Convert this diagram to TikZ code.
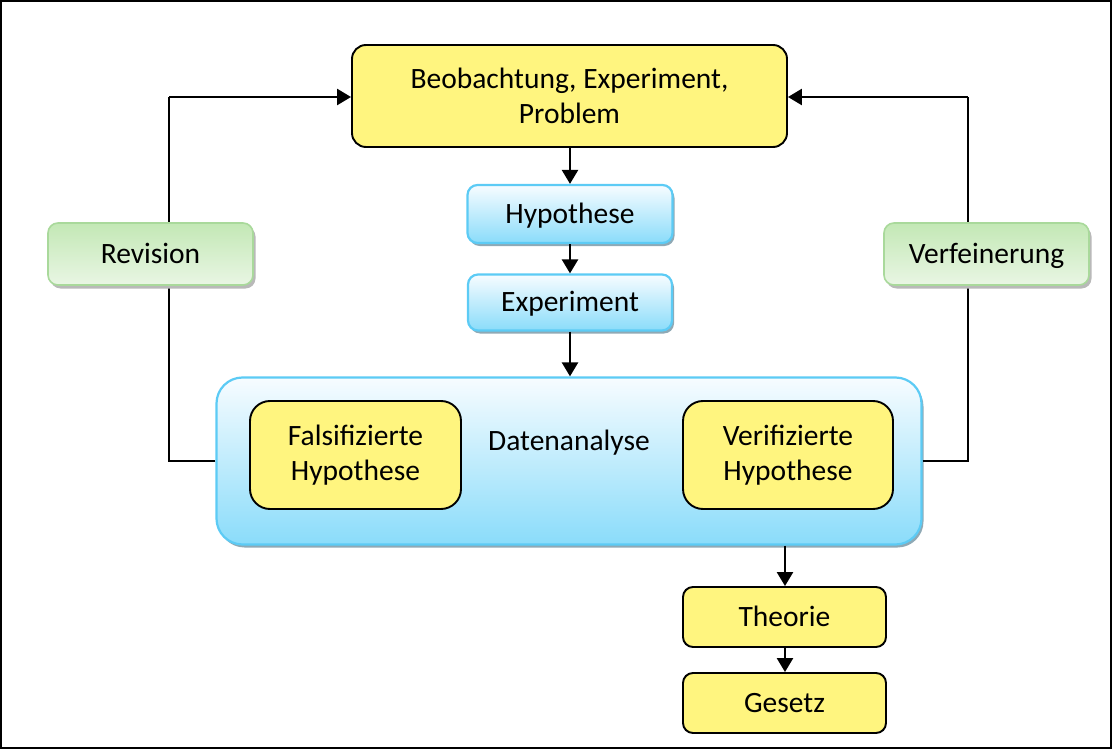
\documentclass[tikz,border=0pt]{standalone}
\usepackage{fontspec}
\setmainfont{Carlito}
\usetikzlibrary{arrows.meta,shadows}
\definecolor{ylw}{HTML}{FFF57F}
\definecolor{bluebd}{HTML}{5CCBF5}
\definecolor{bluebot}{HTML}{8ADCFA}
\definecolor{bluetop}{HTML}{F7FCFF}
\definecolor{grnbd}{HTML}{A9D99B}
\definecolor{grntop}{HTML}{C3E8B5}
\definecolor{grnbot}{HTML}{E9F6E4}
\definecolor{shd}{HTML}{8FA9B5}
\begin{document}
\begin{tikzpicture}[x=1pt,y=-1pt,
  every node/.style={font=\fontsize{29.5}{35}\selectfont, align=center, inner sep=0pt},
  one/.style={text height=22pt, text depth=3.2pt},
  ybox/.style={draw=black, line width=1.9pt, fill=ylw, rounded corners=14pt},
  bbox/.style={draw=bluebd, line width=2.2pt, top color=bluetop, bottom color=bluebot, rounded corners=10pt,
    drop shadow={shadow xshift=2pt, shadow yshift=-3pt, fill=shd, opacity=1}},
  gbox/.style={draw=grnbd, line width=1.6pt, top color=grntop, bottom color=grnbot, rounded corners=10pt,
    drop shadow={shadow xshift=2.5pt, shadow yshift=-3.5pt, fill=gray!55, opacity=1}},
  conn/.style={line width=2.5pt},
  arr/.style={line width=2.5pt, -{Triangle[length=14pt,width=16pt]}}]
\useasboundingbox (0,0) rectangle (1112,749);
\draw[line width=1.2pt] (1,1) rectangle (1111,748);

\coordinate (lc) at (169,461);
\coordinate (lt) at (169,97);
\coordinate (rc) at (968,461);
\coordinate (rt) at (968,97);

\node[ybox, minimum width=435pt, minimum height=102pt] (top) at (569.5,96) {Beobachtung, Experiment,\\Problem};

\node[bbox, minimum width=705pt, minimum height=167pt, rounded corners=26pt] (da) at (569,461) {};
\node[one] (dat) at (569,441) {Datenanalyse};

\draw[conn] (lc -| da.west) -- (lc) -- (lt);
\draw[arr] (lt) -- (lt -| top.west);
\draw[conn] (rc -| da.east) -- (rc) -- (rt);
\draw[arr] (rt) -- (rt -| top.east);

\node[gbox, one, minimum width=205pt, minimum height=62pt] (rev) at (150.5,254) {Revision};
\node[gbox, one, minimum width=205pt, minimum height=62pt] (ver) at (986.5,254) {Verfeinerung};

\node[bbox, one, minimum width=205pt, minimum height=58pt] (hyp) at (570,214) {Hypothese};
\node[bbox, one, minimum width=204pt, minimum height=56pt] (exp) at (570,302.5) {Experiment};

\node[ybox, minimum width=211pt, minimum height=108pt, rounded corners=20pt] (fal) at (355.5,455) {Falsifizierte\\Hypothese};
\node[ybox, minimum width=210pt, minimum height=108pt, rounded corners=20pt] (veri) at (788,455) {Verifizierte\\Hypothese};

\node[ybox, one, minimum width=203pt, minimum height=60pt, rounded corners=10pt] (the) at (784.5,617) {Theorie};
\node[ybox, one, minimum width=203pt, minimum height=60pt, rounded corners=10pt] (ges) at (784.5,703) {Gesetz};

\draw[arr] (top.south -| 570,0) -- (hyp.north);
\draw[arr] (hyp.south) -- (exp.north);
\draw[arr] (exp.south) -- (da.north -| 570,0);
\draw[arr] (da.south -| 785,0) -- (the.north -| 785,0);
\draw[arr] (the.south -| 785,0) -- (ges.north -| 785,0);
\end{tikzpicture}
\end{document}
